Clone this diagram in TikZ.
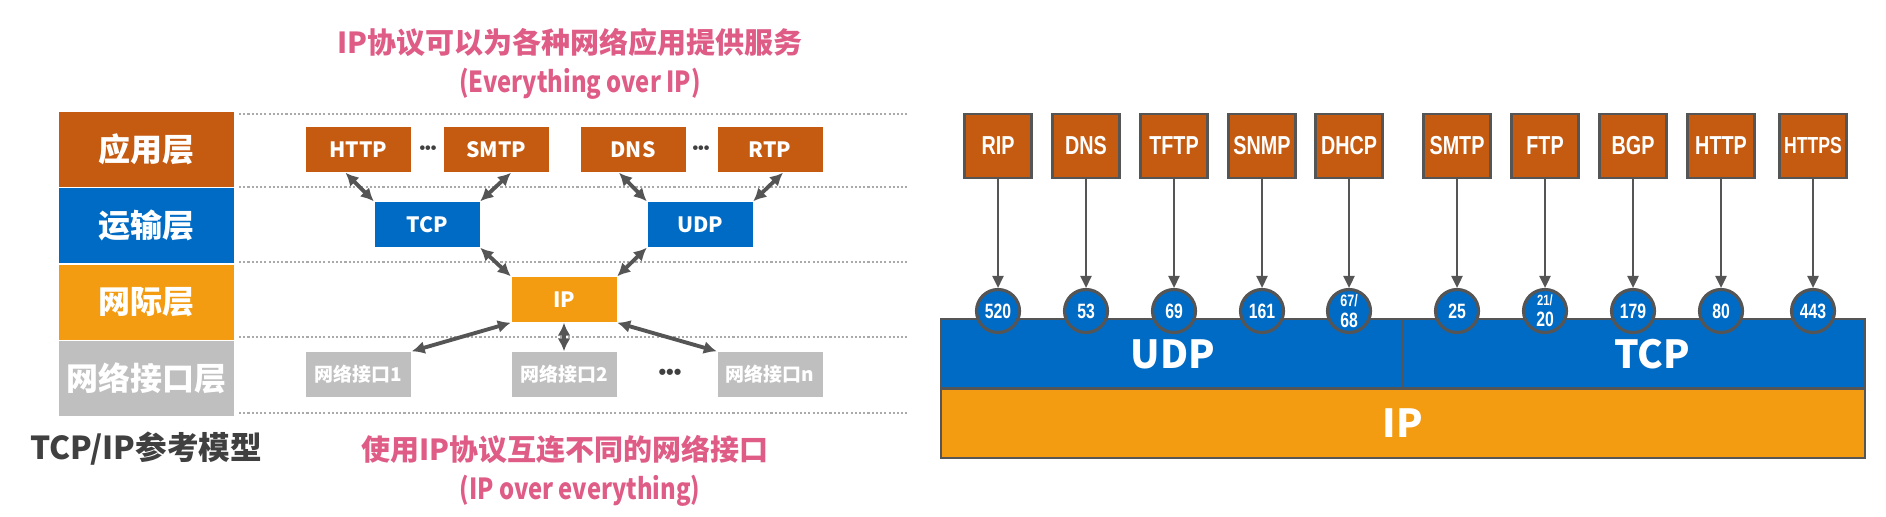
\documentclass[tikz,border=0pt]{standalone}
\usepackage{fontspec}
\usepackage{tikz}
\usetikzlibrary{arrows.meta,positioning,calc}
\newfontfamily\yahei{Noto Sans CJK SC}
\newfontfamily\yaheiN{Noto Sans CJK SC}[FakeStretch=0.82]
\newfontfamily\arialn{Liberation Sans}[FakeStretch=0.76]
\newfontfamily\arial{Liberation Sans}
\definecolor{brunApp}{RGB}{197,90,17}
\definecolor{bleuTrans}{RGB}{0,107,196}
\definecolor{orangeIP}{RGB}{243,156,18}
\definecolor{grisLien}{RGB}{191,191,191}
\definecolor{roseTitre}{RGB}{222,92,134}
\definecolor{grisFonce}{RGB}{64,64,64}
\definecolor{grisFleche}{RGB}{85,85,85}
\definecolor{grisPoint}{RGB}{170,170,170}
\newcommand{\taille}[1]{\fontsize{#1}{#1}\selectfont}
\newcommand{\portsm}{\fontsize{4.7pt}{5.2pt}\selectfont}
\newcommand{\portxs}{\fontsize{4.2pt}{4.8pt}\selectfont}
\newcommand{\protosm}{\fontsize{6.6pt}{6.6pt}\selectfont}

\begin{document}
\begin{tikzpicture}[font=\yahei\bfseries,
  couche/.style={rectangle,minimum width=1.75cm,minimum height=0.75cm,inner sep=0pt,
                 text=white,font=\yahei\bfseries\taille{9.1pt}},
  proto/.style={rectangle,minimum width=1.05cm,minimum height=0.45cm,inner sep=0pt,
                text=white,font=\yahei\bfseries\taille{6pt}},
  fleche/.style={{Latex[length=1.3mm,width=1.3mm]}-{Latex[length=1.3mm,width=1.3mm]},
                 grisFleche,line width=1.1pt},
  pointille/.style={grisPoint,line width=0.5pt,dash pattern=on 0.6pt off 0.6pt},
  titre/.style={roseTitre,font=\yahei\bfseries\taille{8.25pt}},
  points/.style={grisFonce,font=\arial\bfseries\taille{#1},inner sep=0pt},
  boite/.style={rectangle,minimum width=0.67cm,minimum height=0.64cm,inner sep=0pt,
                fill=brunApp,draw=grisFleche,line width=0.6pt,text=white,
                font=\arialn\bfseries\taille{7.4pt}},
  port/.style={circle,minimum size=0.43cm,inner sep=0pt,fill=bleuTrans,draw=grisFleche,
               line width=0.9pt,text=white,align=center,font=\arialn\bfseries\taille{5.9pt}},
  barre/.style={rectangle,inner sep=0pt,draw=grisFleche,line width=0.7pt,
                minimum height=0.69cm},
  gros/.style={text=white,font=\yahei\bfseries\taille{11pt}},
  descente/.style={-{Triangle[length=1.2mm,width=1.1mm]},grisFleche,line width=0.7pt}]

  \useasboundingbox (0,0) rectangle (18.86,5.16);

  % Titres
  \node[titre] (t1) at (5.70,4.74) {IP协议可以为各种网络应用提供服务};
  \node[titre,font=\yaheiN\bfseries\taille{8.25pt}] (t2) at (5.80,4.32) {(Everything over IP)};
  \node[titre] (t3) at (5.65,0.67) {使用IP协议互连不同的网络接口};
  \node[titre,font=\yaheiN\bfseries\taille{8.25pt}] (t4) at (5.80,0.25) {(IP over everything)};
  \node[grisFonce,font=\yahei\bfseries\taille{9pt}] (modele) at (1.46,0.67) {TCP/IP参考模型};

  % Couches
  \node[couche,fill=brunApp] (app) at (1.465,3.665) {应用层};
  \node[couche,fill=bleuTrans,below=0pt of app] (trans) {运输层};
  \node[couche,fill=orangeIP,below=0pt of trans] (inter) {网际层};
  \node[couche,fill=grisLien,below=0pt of inter] (lien) {网络接口层};

  \foreach \y in {4.02,3.29,2.54,1.79,1.03} \draw[pointille] (2.39,\y)--(9.08,\y);

  % Protocoles
  \node[proto,fill=brunApp] (http) at (3.585,3.665) {HTTP};
  \node[proto,fill=brunApp] (smtp) at (4.96,3.665)  {SMTP};
  \node[proto,fill=brunApp] (dns)  at (6.33,3.665)  {DNS};
  \node[proto,fill=brunApp] (rtp)  at (7.70,3.665)  {RTP};
  \node[points=4.6pt] (p1) at (4.28,3.665) {•••};
  \node[points=4.6pt] (p2) at (7.01,3.665) {•••};

  \node[proto,fill=bleuTrans] (tcp) at (4.27,2.915) {TCP};
  \node[proto,fill=bleuTrans] (udp) at (7.00,2.915) {UDP};
  \node[proto,fill=orangeIP]  (ip)  at (5.64,2.165) {IP};

  \node[proto,fill=grisLien,font=\yahei\bfseries\taille{5.4pt}] (if1) at (3.585,1.415) {网络接口1};
  \node[proto,fill=grisLien,font=\yahei\bfseries\taille{5.4pt}] (if2) at (5.64,1.415)  {网络接口2};
  \node[proto,fill=grisLien,font=\yahei\bfseries\taille{5.4pt}] (ifn) at (7.70,1.415)  {网络接口n};
  \node[points=6.2pt] (p3) at (6.70,1.42) {•••};

  % Flèches
  \draw[fleche] ([xshift=-0.13cm]http.south)--(tcp.north west);
  \draw[fleche] ([xshift=0.15cm]smtp.south)--(tcp.north east);
  \draw[fleche] ([xshift=-0.14cm]dns.south)--(udp.north west);
  \draw[fleche] ([xshift=0.13cm]rtp.south)--(udp.north east);
  \draw[fleche] (tcp.south east)--(ip.north west);
  \draw[fleche] (udp.south west)--(ip.north east);
  \draw[fleche] (ip.south west)--(if1.north east);
  \draw[fleche] (ip.south)--(if2.north);
  \draw[fleche] (ip.south east)--(ifn.north west);

  % Pile à droite
  \node[barre,fill=orangeIP,minimum width=9.24cm] (barIP) at (14.03,0.925) {};
  \node[barre,fill=bleuTrans,minimum width=4.61cm] (barUDP) at (11.715,1.625) {};
  \node[barre,fill=bleuTrans,minimum width=4.63cm] (barTCP) at (16.335,1.625) {};
  \node[gros] (txtUDP) at (11.73,1.62) {UDP};
  \node[gros] (txtTCP) at (16.52,1.62) {TCP};
  \node[gros] (txtIP)  at (14.03,0.93) {IP};

  \foreach \x/\nom/\num [count=\i] in {9.98/RIP/520, 10.86/DNS/53, 11.74/TFTP/69,
      12.62/SNMP/161, 13.49/DHCP/{\portsm 67/\\68}, 14.57/SMTP/25,
      15.45/FTP/{\portxs 21/\\20}, 16.33/BGP/179, 17.21/HTTP/80, 18.13/{\protosm HTTPS}/443}{
    \node[boite] (b\i) at (\x,3.70) {\nom};
    \node[port] (c\i) at (\x,2.05) {\num};
    \draw[descente] (b\i.south)--(c\i.north);
  }
\end{tikzpicture}
\end{document}
